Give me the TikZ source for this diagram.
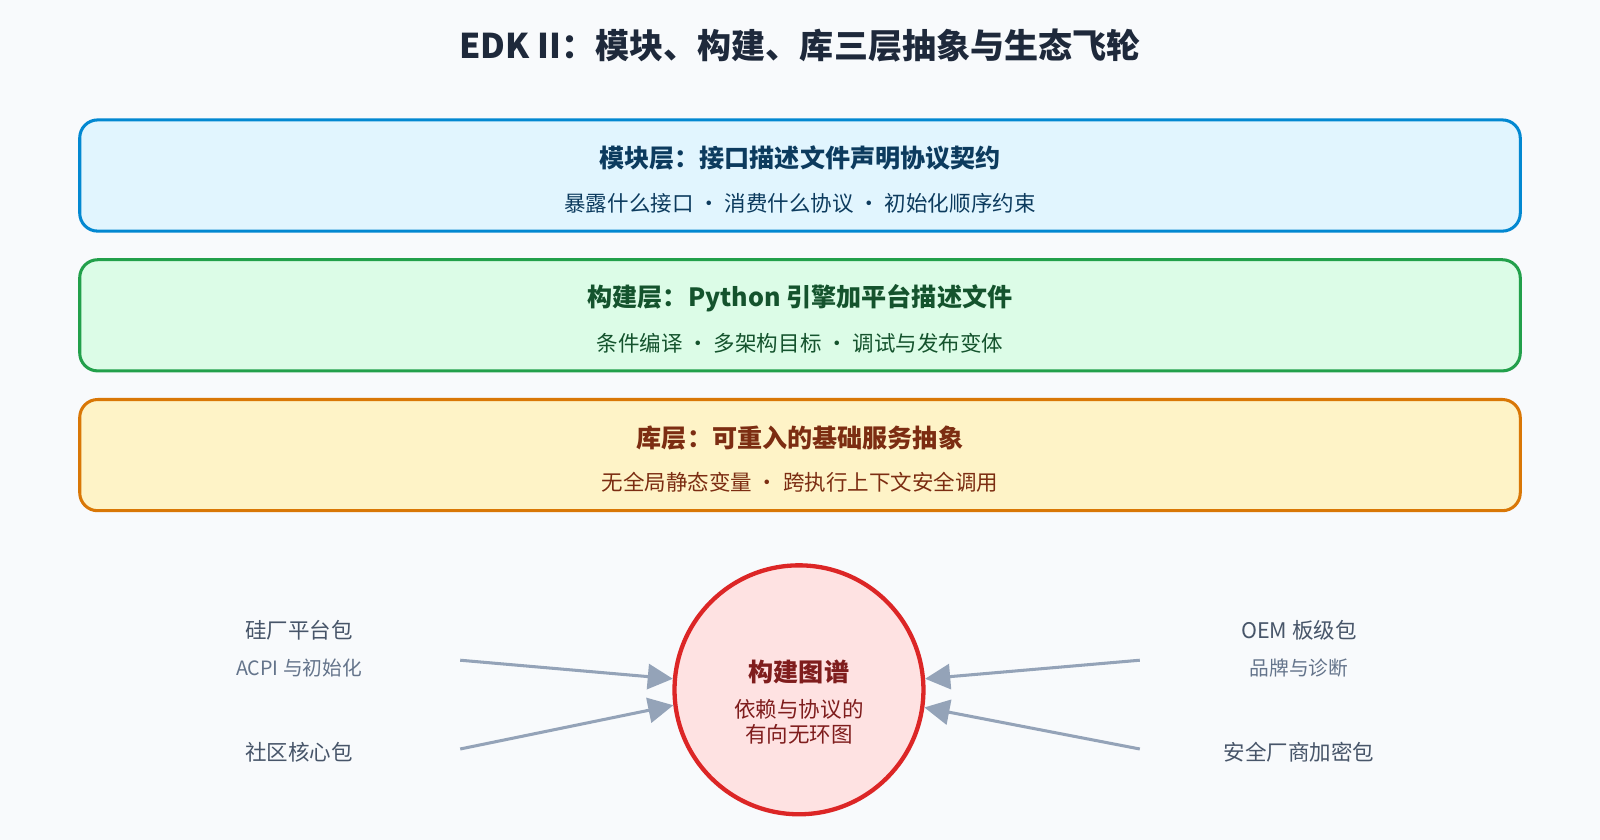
\documentclass[tikz,border=0pt]{standalone}
\usepackage{fontspec}
\setmainfont{Noto Sans CJK SC}
\usetikzlibrary{arrows.meta}
\definecolor{bgcol}{HTML}{F8FAFC}
\definecolor{titlecol}{HTML}{1E293B}
\definecolor{modline}{HTML}{0288D1}
\definecolor{modfill}{HTML}{E1F5FE}
\definecolor{modtext}{HTML}{0C3B5E}
\definecolor{bldline}{HTML}{22A04B}
\definecolor{bldfill}{HTML}{DCFCE7}
\definecolor{bldtext}{HTML}{14532D}
\definecolor{libline}{HTML}{D97706}
\definecolor{libfill}{HTML}{FEF3C7}
\definecolor{libtext}{HTML}{7C2D12}
\definecolor{hubline}{HTML}{DC2626}
\definecolor{hubfill}{HTML}{FEE2E2}
\definecolor{hubtext}{HTML}{7F1D1D}
\definecolor{pkgtext}{HTML}{475569}
\definecolor{subtext}{HTML}{64748B}
\definecolor{arrcol}{HTML}{94A3B8}
\begin{document}
\begin{tikzpicture}[
    x=0.02cm, y=-0.02cm,
    layer/.style={rectangle, rounded corners=10pt, line width=1.7pt,
        minimum width=28.24cm, minimum height=2.18cm},
    head/.style={font=\fontsize{14}{16}\selectfont\bfseries},
    sub/.style={font=\fontsize{12}{14}\selectfont},
    pkg/.style={font=\fontsize{12}{14}\selectfont, text=pkgtext},
    pkgsub/.style={font=\fontsize{11}{13}\selectfont, text=subtext},
    feed/.style={draw=arrcol, line width=1.7pt, -{Triangle[length=14pt, width=14pt]}}]
\fill[bgcol] (0,0) rectangle (1568,823);
\node (title) [font=\fontsize{19}{22}\selectfont\bfseries, text=titlecol] at (784,45) {EDK II：模块、构建、库三层抽象与生态飞轮};

% three layers
\node (mod) [layer, draw=modline, fill=modfill] at (784,172) {};
\node [head, text=modtext] at (784,155) {模块层：接口描述文件声明协议契约};
\node [sub, text=modtext] at (784,199) {暴露什么接口 · 消费什么协议 · 初始化顺序约束};

\node (bld) [layer, draw=bldline, fill=bldfill] at (784,309) {};
\node [head, text=bldtext] at (784,292) {构建层：Python 引擎加平台描述文件};
\node [sub, text=bldtext] at (784,336) {条件编译 · 多架构目标 · 调试与发布变体};

\node (lib) [layer, draw=libline, fill=libfill] at (784,446) {};
\node [head, text=libtext] at (784,429) {库层：可重入的基础服务抽象};
\node [sub, text=libtext] at (784,473) {无全局静态变量 · 跨执行上下文安全调用};

% flywheel
\node (graph) [circle, draw=hubline, fill=hubfill, line width=2.4pt, minimum size=4.88cm] at (783,676) {};
\node [head, text=hubtext] at (783,658) {构建图谱};
\node [sub, text=hubtext, align=center] at (783,707) {依赖与协议的\\有向无环图};

\node (silicon) [pkg] at (293,618) {硅厂平台包};
\node [pkgsub] at (293,655) {ACPI 与初始化};
\node (core) [pkg] at (293,737) {社区核心包};
\node (oem) [pkg] at (1273,618) {OEM 板级包};
\node [pkgsub] at (1273,655) {品牌与诊断};
\node (sec) [pkg] at (1273,737) {安全厂商加密包};

\coordinate (silicon-out) at (451,647);
\coordinate (core-out) at (451,734);
\coordinate (oem-out) at (1117,647);
\coordinate (sec-out) at (1117,734);
\draw[feed] (silicon-out) -- (graph.175);
\draw[feed] (core-out) -- (graph.187);
\draw[feed] (oem-out) -- (graph.5);
\draw[feed] (sec-out) -- (graph.352);
\end{tikzpicture}
\end{document}
